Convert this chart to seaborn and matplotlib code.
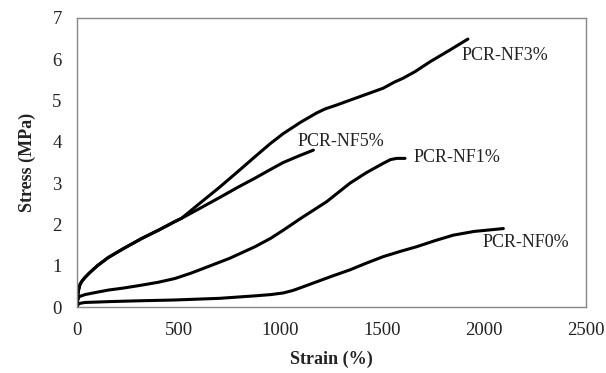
import matplotlib
matplotlib.use("Agg")
import matplotlib.pyplot as plt
import seaborn as sns
import pandas as pd

# Data
nf0_strain = [0, 5, 15, 40, 100, 154, 300, 481, 700, 874, 950, 1013, 1060, 1100, 1177,
              1260, 1341, 1420, 1504, 1590, 1668, 1760, 1848, 1950, 2094]
nf0_stress = [0, 0.06, 0.09, 0.11, 0.12, 0.13, 0.15, 0.17, 0.21, 0.27, 0.30, 0.34, 0.40, 0.47, 0.61,
              0.76, 0.90, 1.06, 1.22, 1.35, 1.46, 1.61, 1.74, 1.83, 1.90]

nf1_strain = [0, 3, 10, 39, 100, 154, 230, 318, 400, 481, 560, 645, 750, 874, 950, 1013,
              1100, 1226, 1341, 1420, 1504, 1540, 1570, 1611]
nf1_stress = [0, 0.15, 0.25, 0.30, 0.36, 0.41, 0.46, 0.53, 0.60, 0.69, 0.82, 0.98, 1.18, 1.46, 1.66, 1.86,
              2.15, 2.55, 3.00, 3.25, 3.48, 3.57, 3.60, 3.60]

nf3_strain = [0, 3, 8, 15, 25, 40, 60, 100, 154, 230, 318, 400, 481, 514, 600, 700, 790, 874, 950,
              1013, 1100, 1177, 1220, 1280, 1341, 1420, 1504, 1560, 1601, 1660, 1734, 1830, 1920]
nf3_stress = [0, 0.25, 0.42, 0.55, 0.63, 0.72, 0.82, 1.00, 1.20, 1.42, 1.66, 1.86, 2.07, 2.15, 2.50, 2.90,
              3.28, 3.64, 3.96, 4.20, 4.48, 4.70, 4.80, 4.90, 5.01, 5.15, 5.30, 5.45, 5.54, 5.70, 5.94, 6.22, 6.49]

nf5_strain = [0, 3, 8, 15, 25, 40, 60, 100, 154, 230, 318, 400, 481, 514, 600, 700, 790, 874, 950,
              1013, 1090, 1161]
nf5_stress = [0, 0.25, 0.42, 0.55, 0.63, 0.72, 0.82, 1.00, 1.20, 1.42, 1.66, 1.86, 2.07, 2.15, 2.38, 2.65,
              2.90, 3.12, 3.33, 3.50, 3.66, 3.80]

series_names = ["PCR-NF0%", "PCR-NF1%", "PCR-NF3%", "PCR-NF5%"]
label_x = [1994, 1655, 1891, 1085]
label_y = [1.57, 3.63, 6.10, 4.00]

x_ticks = [0, 500, 1000, 1500, 2000, 2500]
y_ticks = [0, 1, 2, 3, 4, 5, 6, 7]

frames = []
for name, xs, ys in zip(series_names,
                        [nf0_strain, nf1_strain, nf3_strain, nf5_strain],
                        [nf0_stress, nf1_stress, nf3_stress, nf5_stress]):
    frames.append(pd.DataFrame({"strain": xs, "stress": ys, "sample": name}))
df = pd.concat(frames, ignore_index=True)

sns.set_style("white")
plt.rcParams["font.family"] = ["Liberation Serif", "DejaVu Serif"]

fig = plt.figure(figsize=(6.06, 3.73), dpi=100)
ax = fig.add_axes([77 / 606, (373 - 307) / 373, (586 - 77) / 606, (307 - 18) / 373])

sns.lineplot(data=df, x="strain", y="stress", hue="sample", units="sample",
             estimator=None, sort=False, palette=["black"] * 4,
             linewidth=2.2, legend=False, ax=ax)
for line in ax.lines:
    line.set_solid_joinstyle("round")
    line.set_solid_capstyle("round")

for name, lx, ly in zip(series_names, label_x, label_y):
    ax.text(lx, ly, name, fontsize=13, color="#222222", va="center", ha="left")

ax.set_xlim(0, 2500)
ax.set_ylim(0, 7)
ax.set_xticks(x_ticks)
ax.set_yticks(y_ticks)
ax.tick_params(axis="both", direction="out", length=5, width=1, color="#888888",
               labelsize=13.5, labelcolor="#222222", pad=6)
for sp in ax.spines.values():
    sp.set_visible(True)
    sp.set_color("#888888")
    sp.set_linewidth(1.0)

ax.set_xlabel("Strain (%)", fontsize=13, fontweight="bold", color="#222222", labelpad=8)
ax.set_ylabel("Stress (MPa)", fontsize=13, fontweight="bold", color="#222222", labelpad=12)

fig.savefig("out.png", dpi=100)
